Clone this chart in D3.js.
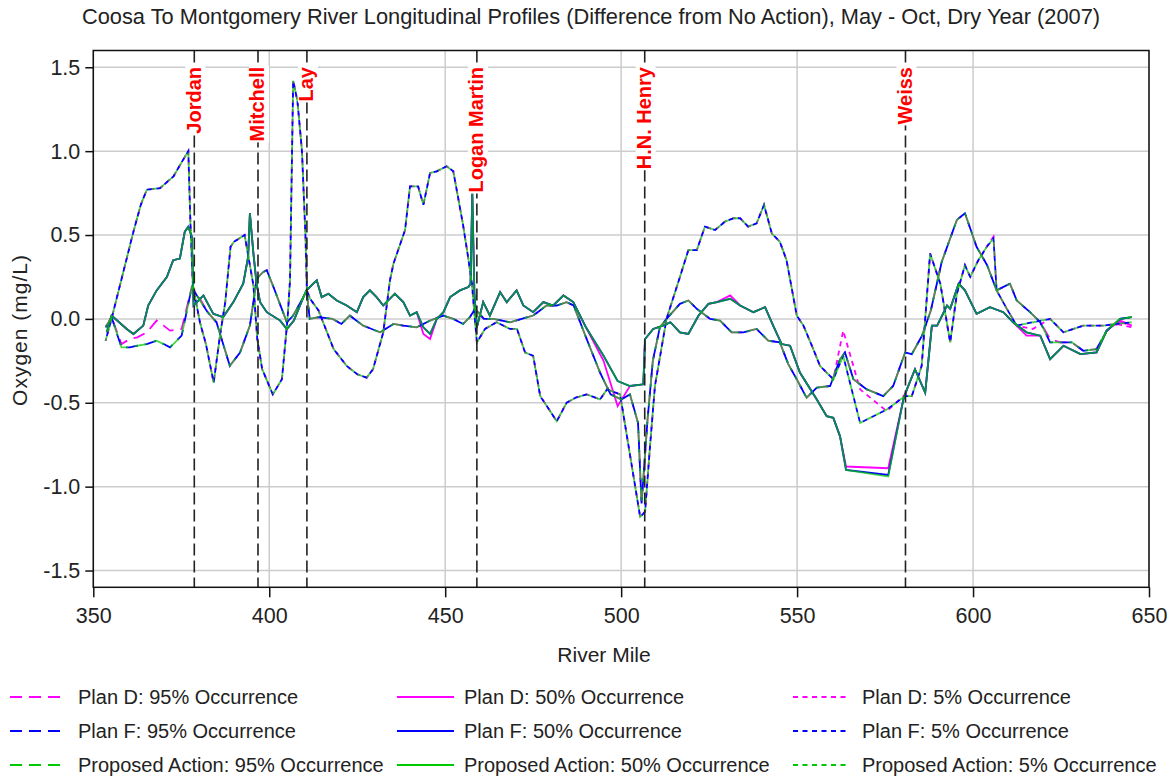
<!DOCTYPE html>
<html>
<head>
<meta charset="utf-8">
<script src="https://cdn.jsdelivr.net/npm/d3@7/dist/d3.min.js"></script>
<style>
  body { margin: 0; background: #fff; }
  svg text { font-family: "Liberation Sans", Arial, sans-serif; fill: #222; }
</style>
</head>
<body>
<svg id="chart"></svg>
<script>
// 95% occurrence (long dash)
var miles95 = [353.5,355.2,358.0,360.4,362.5,365.2,368.0,370.0,371.8,375.1,378.0,380.3,382.5,385.0,388.8,391.7,394.5,396.4,396.9,398.3,
    399.3,401.2,405.0,406.8,409.7,410.6,411.5,414.0,418.0,420.5,422.9,426.7,431.5,435.3,438.1,441.9,445.7,449.5,452.3,455.1,
    457.0,458.5,461.0,463.7,468.4,475.0,478.8,481.7,484.5,486.5,490.2,494.0,497.0,500.0,502.5,504.8,505.8,507.5,509.0,511.0,
    512.9,516.7,519.1,521.5,525.3,528.1,531.4,534.7,538.5,541.8,545.1,547.5,549.9,552.7,555.6,559.4,562.2,563.6,566.0,569.8,
    574.5,577.3,580.7,582.6,585.5,588.0,591.1,595.4,597.7,601.0,604.0,606.7,610.5,612.4,616.2,619.1,621.9,624.7,628.1,631.3,
    635.1,638.0,641.8,645.1];
var planD95 = [-0.05,0.01,-0.15,-0.12,-0.11,-0.08,-0.01,-0.04,-0.07,-0.06,0.19,0.12,0.04,-0.02,-0.28,-0.20,-0.04,0.23,0.25,0.28,
    0.29,0.19,-0.02,0.02,0.13,0.17,0.00,0.01,0.00,-0.03,0.02,-0.04,-0.08,-0.03,-0.04,-0.05,-0.01,0.02,0.00,-0.03,
    0.01,0.06,0.00,0.00,-0.02,0.02,0.08,0.08,0.10,0.08,-0.12,-0.32,-0.45,-0.48,-0.45,-0.62,-1.10,-0.60,-0.25,-0.05,
    0.00,0.09,0.11,0.06,0.00,-0.01,-0.08,-0.08,-0.06,-0.13,-0.14,-0.27,-0.36,-0.47,-0.41,-0.40,-0.24,-0.20,-0.36,-0.42,
    -0.46,-0.40,-0.20,-0.21,-0.10,0.05,0.34,0.59,0.63,0.43,0.32,0.17,0.21,0.11,0.04,-0.02,-0.12,-0.14,-0.14,-0.19,
    -0.18,-0.07,-0.02,-0.04];
var planF95 = [-0.05,0.01,-0.17,-0.17,-0.16,-0.15,-0.13,-0.15,-0.17,-0.10,0.19,0.11,0.04,-0.02,-0.28,-0.20,-0.04,0.23,0.25,0.28,
    0.29,0.19,-0.02,0.02,0.13,0.17,0.00,0.01,0.00,-0.03,0.02,-0.04,-0.08,-0.03,-0.04,-0.05,-0.01,0.02,0.00,-0.03,
    0.01,0.06,0.00,0.00,-0.02,0.02,0.08,0.08,0.10,0.08,-0.12,-0.32,-0.45,-0.48,-0.45,-0.62,-1.10,-0.60,-0.25,-0.05,
    0.00,0.09,0.11,0.06,0.00,-0.01,-0.08,-0.08,-0.06,-0.13,-0.14,-0.27,-0.36,-0.47,-0.41,-0.40,-0.24,-0.20,-0.36,-0.42,
    -0.46,-0.40,-0.20,-0.21,-0.10,0.05,0.34,0.59,0.63,0.43,0.32,0.17,0.21,0.11,0.04,-0.02,-0.14,-0.14,-0.14,-0.19,
    -0.18,-0.07,0.00,0.01];
var proposed95 = [-0.05,0.01,-0.17,-0.17,-0.16,-0.15,-0.13,-0.15,-0.17,-0.10,0.19,0.11,0.04,-0.02,-0.28,-0.20,-0.04,0.23,0.25,0.28,
    0.29,0.19,-0.02,0.02,0.13,0.17,0.00,0.01,0.00,-0.03,0.02,-0.04,-0.08,-0.03,-0.04,-0.05,-0.01,0.02,0.00,-0.03,
    0.01,0.06,0.00,0.00,-0.02,0.02,0.08,0.08,0.10,0.08,-0.12,-0.32,-0.45,-0.48,-0.45,-0.62,-1.10,-0.60,-0.25,-0.05,
    0.00,0.09,0.11,0.06,0.00,-0.01,-0.08,-0.08,-0.06,-0.13,-0.14,-0.27,-0.36,-0.47,-0.41,-0.40,-0.24,-0.20,-0.36,-0.42,
    -0.46,-0.40,-0.20,-0.21,-0.10,0.05,0.34,0.59,0.63,0.43,0.32,0.17,0.21,0.11,0.04,-0.02,-0.14,-0.14,-0.14,-0.19,
    -0.18,-0.07,0.00,0.01];

// 50% occurrence (solid)
var miles50 = [353.8,355.2,359.5,361.4,364.2,365.6,368.0,370.9,372.7,374.6,376.0,377.0,378.0,378.5,381.3,384.1,386.9,389.8,392.6,394.0,
    394.5,395.5,396.4,397.4,399.3,403.1,405.0,407.0,409.7,410.6,412.5,413.5,414.9,416.8,419.2,422.0,424.9,426.7,428.6,430.5,
    432.4,435.7,438.1,440.0,441.9,443.8,445.7,447.6,449.5,451.4,454.2,456.6,457.2,457.7,458.3,459.0,460.8,462.7,465.6,467.5,
    470.3,472.2,475.0,477.9,480.7,483.6,486.4,490.0,495.0,499.0,502.5,506.3,506.8,509.1,511.9,514.0,516.7,519.1,522.0,524.8,
    527.2,531.0,533.8,537.6,540.9,543.2,545.6,548.0,550.8,555.6,558.4,560.3,562.2,563.9,575.9,580.2,581.2,583.5,586.4,588.3,
    589.8,592.6,593.5,595.9,597.7,601.0,604.8,608.6,611.4,615.2,619.1,621.9,625.7,630.5,635.1,638.0,641.8,645.1];
var planD50 = [-0.05,0.02,-0.06,-0.09,-0.04,0.08,0.17,0.25,0.35,0.36,0.52,0.55,0.49,0.08,0.14,0.03,0.01,0.10,0.21,0.37,
    0.63,0.39,0.21,0.10,0.04,-0.01,-0.06,-0.01,0.13,0.17,0.21,0.23,0.13,0.15,0.11,0.08,0.04,0.13,0.17,0.13,
    0.08,0.15,0.10,0.02,0.04,-0.09,-0.12,0.00,0.04,0.13,0.17,0.19,0.21,0.75,0.15,-0.05,0.10,0.02,0.16,0.10,
    0.17,0.08,0.04,0.10,0.08,0.14,0.10,-0.05,-0.25,-0.52,-0.40,-0.39,-0.12,-0.06,-0.04,-0.02,-0.08,-0.09,0.02,0.09,
    0.10,0.14,0.08,0.04,0.07,-0.04,-0.15,-0.16,-0.32,-0.48,-0.58,-0.59,-0.70,-0.88,-0.89,-0.48,-0.42,-0.30,-0.44,-0.04,
    -0.04,0.08,0.06,0.21,0.17,0.03,0.07,0.04,-0.02,-0.10,-0.10,-0.24,-0.16,-0.21,-0.20,-0.07,-0.01,-0.04];
var planF50 = [-0.08,0.02,-0.06,-0.09,-0.04,0.08,0.17,0.25,0.35,0.36,0.52,0.55,0.49,0.08,0.14,0.03,0.01,0.10,0.21,0.37,
    0.63,0.39,0.21,0.10,0.04,-0.01,-0.06,-0.01,0.13,0.17,0.21,0.23,0.13,0.15,0.11,0.08,0.04,0.13,0.17,0.13,
    0.08,0.15,0.10,0.02,0.04,-0.05,-0.09,0.00,0.04,0.13,0.17,0.19,0.21,0.75,0.15,-0.05,0.10,0.02,0.16,0.10,
    0.17,0.08,0.04,0.10,0.08,0.14,0.10,-0.05,-0.22,-0.37,-0.40,-0.39,-0.12,-0.06,-0.04,-0.02,-0.08,-0.09,0.02,0.09,
    0.10,0.12,0.08,0.04,0.07,-0.04,-0.15,-0.16,-0.32,-0.48,-0.58,-0.59,-0.70,-0.90,-0.93,-0.48,-0.42,-0.30,-0.44,-0.04,
    -0.04,0.08,0.06,0.21,0.17,0.03,0.07,0.04,-0.02,-0.08,-0.10,-0.24,-0.16,-0.21,-0.20,-0.07,0.00,0.01];
var proposed50 = [-0.08,0.02,-0.06,-0.09,-0.04,0.08,0.17,0.25,0.35,0.36,0.52,0.55,0.49,0.08,0.14,0.03,0.01,0.10,0.21,0.37,
    0.63,0.39,0.21,0.10,0.04,-0.01,-0.06,-0.01,0.13,0.17,0.21,0.23,0.13,0.15,0.11,0.08,0.04,0.13,0.17,0.13,
    0.08,0.15,0.10,0.02,0.04,-0.05,-0.09,0.00,0.04,0.13,0.17,0.19,0.21,0.75,0.15,-0.05,0.10,0.02,0.16,0.10,
    0.17,0.08,0.04,0.10,0.08,0.14,0.10,-0.05,-0.22,-0.37,-0.40,-0.39,-0.12,-0.06,-0.04,-0.02,-0.08,-0.09,0.02,0.09,
    0.10,0.12,0.08,0.04,0.07,-0.04,-0.15,-0.16,-0.32,-0.48,-0.58,-0.59,-0.70,-0.90,-0.94,-0.48,-0.42,-0.30,-0.44,-0.04,
    -0.04,0.08,0.06,0.21,0.17,0.03,0.07,0.04,-0.02,-0.08,-0.10,-0.24,-0.16,-0.21,-0.20,-0.07,0.00,0.01];

// 5% occurrence (short dash)
var miles5 = [353.5,355.3,361.4,363.5,365.2,369.0,372.8,375.0,377.0,377.6,378.3,380.3,382.0,384.2,386.0,387.5,389.0,390.0,393.0,395.5,
    396.6,398.0,401.0,403.6,405.2,405.9,406.8,408.0,409.3,410.3,410.7,411.6,414.0,418.3,422.0,425.0,427.7,429.5,432.4,434.3,
    435.3,438.6,440.0,442.3,443.8,445.7,447.6,450.4,452.3,455.0,456.5,457.6,459.0,461.3,464.6,468.4,470.4,472.7,475.0,477.0,
    481.7,484.5,487.0,490.2,494.0,496.0,499.7,505.4,506.8,508.2,509.6,512.9,516.7,519.1,521.5,523.8,526.7,529.5,531.9,533.8,
    536.1,538.5,540.6,542.8,545.1,547.0,549.9,551.8,554.6,556.5,560.3,563.1,567.9,575.5,580.7,582.6,585.4,587.8,590.7,593.5,
    595.4,597.7,599.2,601.5,603.9,605.8,606.7,609.6,612.4,617.0,621.9,625.7,631.3,637.0,640.8,645.1];
var planD5 = [-0.13,0.01,0.52,0.68,0.77,0.78,0.85,0.93,1.00,0.57,0.20,-0.02,-0.15,-0.38,-0.10,0.10,0.43,0.46,0.50,0.20,
    -0.12,-0.30,-0.45,-0.36,0.00,0.23,1.42,1.30,1.00,0.49,0.17,0.12,0.05,-0.18,-0.28,-0.33,-0.35,-0.30,-0.08,0.23,
    0.33,0.53,0.79,0.79,0.68,0.87,0.88,0.91,0.88,0.57,0.37,0.21,-0.14,-0.06,-0.02,-0.06,-0.06,-0.20,-0.22,-0.46,
    -0.61,-0.50,-0.47,-0.45,-0.48,-0.42,-0.45,-1.18,-1.15,-0.76,-0.40,0.00,0.25,0.41,0.41,0.55,0.53,0.58,0.60,0.60,
    0.55,0.57,0.68,0.51,0.46,0.35,0.02,-0.04,-0.18,-0.28,-0.36,-0.07,-0.42,-0.55,-0.45,-0.46,-0.28,0.39,0.21,-0.14,
    0.15,0.32,0.25,0.35,0.43,0.49,0.17,0.06,-0.04,-0.06,0.00,-0.08,-0.04,-0.04,-0.03,-0.05];
var planF5 = [-0.13,0.01,0.52,0.68,0.77,0.78,0.85,0.93,1.00,0.57,0.20,-0.02,-0.15,-0.38,-0.10,0.10,0.43,0.46,0.50,0.20,
    -0.12,-0.30,-0.45,-0.36,0.00,0.23,1.42,1.30,1.00,0.49,0.17,0.12,0.05,-0.18,-0.28,-0.33,-0.35,-0.30,-0.08,0.23,
    0.33,0.53,0.79,0.79,0.68,0.87,0.88,0.91,0.88,0.57,0.37,0.21,-0.14,-0.06,-0.02,-0.06,-0.06,-0.20,-0.22,-0.46,
    -0.61,-0.50,-0.47,-0.45,-0.48,-0.42,-0.45,-1.18,-1.15,-0.76,-0.40,0.00,0.25,0.41,0.41,0.55,0.53,0.58,0.60,0.60,
    0.55,0.57,0.68,0.51,0.46,0.35,0.02,-0.04,-0.18,-0.28,-0.36,-0.22,-0.62,-0.54,-0.46,-0.46,-0.28,0.39,0.21,-0.14,
    0.15,0.32,0.25,0.35,0.43,0.48,0.17,0.06,-0.04,-0.02,0.00,-0.08,-0.04,-0.04,-0.03,-0.02];
var proposed5 = [-0.13,0.01,0.52,0.68,0.77,0.78,0.85,0.93,1.00,0.57,0.20,-0.02,-0.15,-0.38,-0.10,0.10,0.43,0.46,0.50,0.20,
    -0.12,-0.30,-0.45,-0.36,0.00,0.23,1.42,1.30,1.00,0.49,0.17,0.12,0.05,-0.18,-0.28,-0.33,-0.35,-0.30,-0.08,0.23,
    0.33,0.53,0.79,0.79,0.68,0.87,0.88,0.91,0.88,0.57,0.37,0.21,-0.14,-0.06,-0.02,-0.06,-0.06,-0.20,-0.22,-0.46,
    -0.61,-0.50,-0.47,-0.45,-0.48,-0.42,-0.45,-1.18,-1.15,-0.76,-0.40,0.00,0.25,0.41,0.41,0.55,0.53,0.58,0.60,0.60,
    0.55,0.57,0.68,0.51,0.46,0.35,0.02,-0.04,-0.18,-0.28,-0.36,-0.22,-0.62,-0.54,-0.46,-0.46,-0.28,0.39,0.21,-0.14,
    0.15,0.32,0.25,0.35,0.43,0.48,0.17,0.06,-0.04,-0.02,0.00,-0.08,-0.04,-0.04,-0.03,-0.02];

// dams along the river
var damMiles = [378.7, 396.8, 410.7, 459.0, 506.7, 580.8];
var damNames = ["Jordan", "Mitchell", "Lay", "Logan Martin", "H.N. Henry", "Weiss"];

var xTicks = [350, 400, 450, 500, 550, 600, 650];
var yTicks = [-1.5, -1.0, -0.5, 0.0, 0.5, 1.0, 1.5];

var plans = ["Plan D", "Plan F", "Proposed Action"];
var planColors = ["#ff00ff", "#0000ff", "#00c800"];
var levels = ["95%", "50%", "5%"];
var levelDash = ["12,7", null, "5,4.5"];

var width = 1175,
    height = 778,
    plotL = 93.3, plotR = 1149,
    plotT = 50.5, plotB = 587.3;

var x = d3.scaleLinear().domain([350, 650]).range([plotL, plotR]),
    y = d3.scaleLinear().domain([-1.6, 1.6]).range([plotB, plotT]);

var svg = d3.select("#chart")
    .attr("width", width)
    .attr("height", height);

svg.append("rect")
    .attr("width", width)
    .attr("height", height)
    .attr("fill", "#fff");

// grid
svg.append("g").selectAll("line")
    .data(xTicks)
    .enter().append("line")
    .attr("x1", function(d) { return x(d); })
    .attr("x2", function(d) { return x(d); })
    .attr("y1", plotT)
    .attr("y2", plotB)
    .attr("stroke", "#cccccc")
    .attr("stroke-width", 1.5);

svg.append("g").selectAll("line")
    .data(yTicks)
    .enter().append("line")
    .attr("x1", plotL)
    .attr("x2", plotR)
    .attr("y1", function(d) { return y(d); })
    .attr("y2", function(d) { return y(d); })
    .attr("stroke", "#cccccc")
    .attr("stroke-width", 1.5);

// series table: rows = plans, columns = occurrence levels
var seriesMiles = [miles95, miles50, miles5];
var seriesValues = [
    [planD95, planD50, planD5],
    [planF95, planF50, planF5],
    [proposed95, proposed50, proposed5]
];
var dashOffset = [[3, 9, 0], [0, 0, 0], [2.4, 4.75, 0]];

var line = d3.line()
    .x(function(d) { return x(d[0]); })
    .y(function(d) { return y(d[1]); });

var plot = svg.append("g");
plans.forEach(function(plan, p) {
    levels.forEach(function(level, l) {
        var pts = seriesMiles[l].map(function(m, i) { return [m, seriesValues[p][l][i]]; });
        plot.append("path")
            .datum(pts)
            .attr("d", line)
            .attr("fill", "none")
            .attr("stroke", planColors[p])
            .attr("stroke-width", 1.8)
            .attr("stroke-opacity", p == 2 ? 0.72 : 1)
            .attr("stroke-dasharray", levelDash[l])
            .attr("stroke-dashoffset", levelDash[l] ? dashOffset[l][p] : null);
    });
});

// dam markers
var dams = svg.append("g");
dams.selectAll("line")
    .data(damMiles)
    .enter().append("line")
    .attr("x1", function(d) { return x(d); })
    .attr("x2", function(d) { return x(d); })
    .attr("y1", plotT)
    .attr("y2", plotB)
    .attr("stroke", "#222")
    .attr("stroke-width", 1.6)
    .attr("stroke-dasharray", "12,5");

damMiles.forEach(function(m, i) {
    var g = dams.append("g")
        .attr("transform", "translate(" + (x(m) + 6.5) + ",67)rotate(-90)");
    var bg = g.append("rect").attr("fill", "#fff");
    var t = g.append("text")
        .attr("text-anchor", "end")
        .style("font-size", "20px")
        .style("font-weight", "bold")
        .style("fill", "#ff0000")
        .text(damNames[i]);
    var len = t.node().getComputedTextLength();
    bg.attr("x", -len - 1).attr("y", -15.5).attr("width", len + 2).attr("height", 20);
});

// frame
svg.append("rect")
    .attr("x", plotL)
    .attr("y", plotT)
    .attr("width", plotR - plotL)
    .attr("height", plotB - plotT)
    .attr("fill", "none")
    .attr("stroke", "#111")
    .attr("stroke-width", 1.5);

// axes
var xAxis = svg.append("g")
    .attr("transform", "translate(0," + plotB + ")")
    .call(d3.axisBottom(x).tickValues(xTicks).tickSize(10).tickPadding(10).tickFormat(d3.format("d")));
var yAxis = svg.append("g")
    .attr("transform", "translate(" + plotL + ",0)")
    .call(d3.axisLeft(y).tickValues(yTicks).tickSize(8).tickPadding(5)
        .tickFormat(function(d) { return d.toFixed(1); }));

[xAxis, yAxis].forEach(function(a) {
    a.select(".domain").remove();
    a.selectAll(".tick line").attr("stroke", "#111").attr("stroke-width", 1.5);
    a.selectAll(".tick text")
        .style("font-size", "21.5px")
        .style("font-family", "'Liberation Sans', Arial, sans-serif")
        .attr("fill", "#222");
});

// titles
svg.append("text")
    .attr("x", 591)
    .attr("y", 24)
    .attr("text-anchor", "middle")
    .style("font-size", "21.8px")
    .text("Coosa To Montgomery River Longitudinal Profiles (Difference from No Action), May - Oct, Dry Year (2007)");

svg.append("text")
    .attr("x", 604)
    .attr("y", 662)
    .attr("text-anchor", "middle")
    .style("font-size", "21px")
    .text("River Mile");

svg.append("text")
    .attr("transform", "translate(27,330)rotate(-90)")
    .attr("text-anchor", "middle")
    .style("font-size", "21px")
    .style("letter-spacing", "1px")
    .text("Oxygen (mg/L)");

// legend
var legCols = [{x1: 10, x2: 65, tx: 78}, {x1: 397, x2: 454, tx: 464}, {x1: 793, x2: 850, tx: 862}];
var legRows = [697, 731, 765];
var legend = svg.append("g");
plans.forEach(function(plan, p) {
    levels.forEach(function(level, l) {
        var c = legCols[l], ry = legRows[p];
        legend.append("line")
            .attr("x1", c.x1)
            .attr("x2", c.x2)
            .attr("y1", ry)
            .attr("y2", ry)
            .attr("stroke", planColors[p])
            .attr("stroke-width", 1.8)
            .attr("stroke-dasharray", levelDash[l]);
        legend.append("text")
            .attr("x", c.tx)
            .attr("y", ry + 7)
            .style("font-size", "20px")
            .text(plan + ": " + level + " Occurrence");
    });
});
</script>
</body>
</html>
